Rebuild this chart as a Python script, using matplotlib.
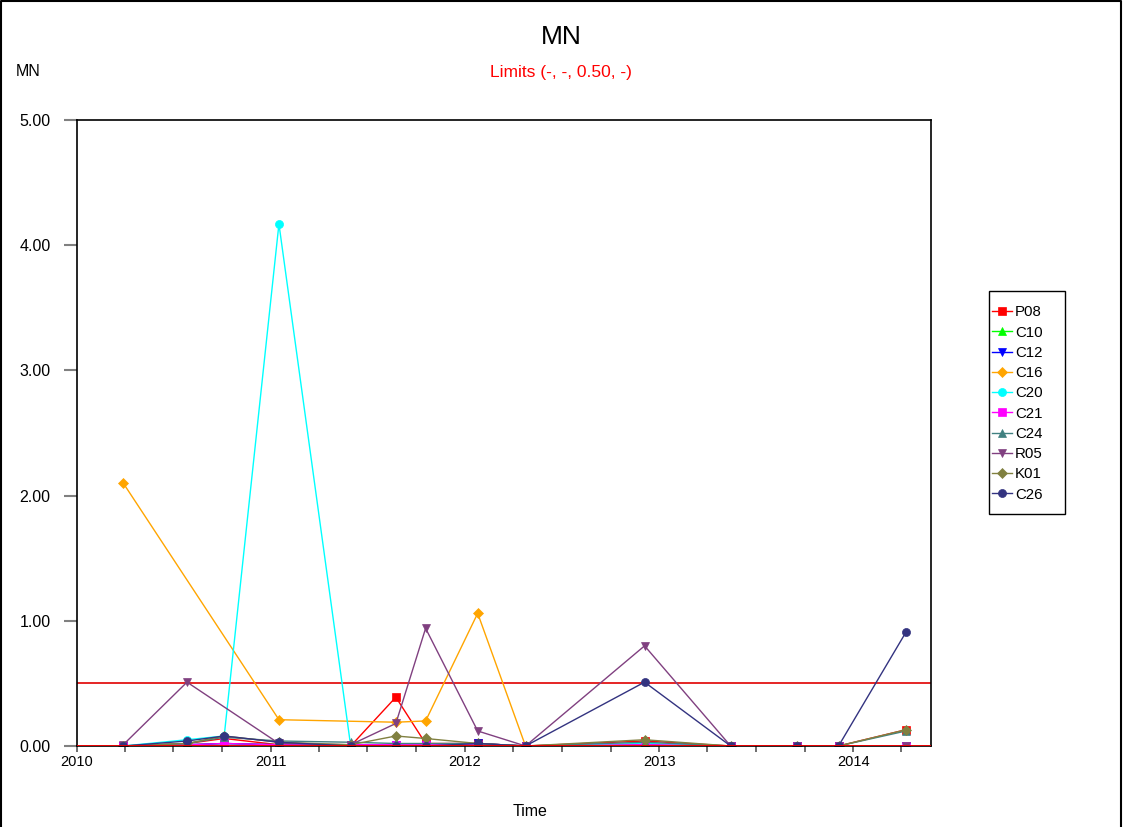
import datetime as dt
import numpy as np
import matplotlib
matplotlib.use("Agg")
import matplotlib.pyplot as plt
import matplotlib.dates as mdates
from matplotlib.patches import Rectangle
from matplotlib.lines import Line2D
from matplotlib.ticker import FormatStrFormatter

plt.rcParams['font.family'] = ['Liberation Sans', 'DejaVu Sans']

# Sampling dates
dates = [dt.date(2010, 3, 29), dt.date(2010, 7, 27), dt.date(2010, 10, 5),
         dt.date(2011, 1, 16), dt.date(2011, 5, 31), dt.date(2011, 8, 24),
         dt.date(2011, 10, 19), dt.date(2012, 1, 25), dt.date(2012, 4, 24),
         dt.date(2012, 12, 4), dt.date(2013, 5, 15), dt.date(2013, 9, 17),
         dt.date(2013, 12, 4), dt.date(2014, 4, 10)]

nan = np.nan
# MN concentration per station (nan = not sampled)
P08 = [0.00, 0.02, 0.06, 0.01, 0.00, 0.39, 0.02, 0.02, 0.00, 0.04, 0.00, 0.00, 0.00, 0.13]
C10 = [0.00, 0.01, 0.02, 0.01, 0.01, 0.01, 0.01, 0.01, 0.00, 0.01, 0.00, 0.00, 0.00, 0.00]
C12 = [0.00, 0.01, 0.02, 0.01, 0.01, 0.01, 0.01, 0.02, 0.00, 0.01, 0.00, 0.00, 0.00, 0.00]
C16 = [2.10, nan, nan, 0.21, nan, 0.19, 0.20, 1.06, 0.00, nan, nan, nan, nan, nan]
C20 = [0.00, 0.05, 0.08, 4.17, 0.00, 0.01, 0.01, 0.01, 0.00, 0.02, 0.00, 0.00, 0.00, 0.00]
C21 = [0.00, 0.01, 0.02, 0.01, 0.01, 0.01, 0.01, 0.01, 0.00, 0.01, 0.00, 0.00, 0.00, 0.00]
C24 = [0.00, 0.02, 0.07, 0.04, 0.03, 0.02, 0.02, 0.02, 0.00, 0.03, 0.00, 0.00, 0.00, 0.12]
R05 = [0.01, 0.51, nan, 0.02, 0.01, 0.18, 0.94, 0.12, 0.00, 0.80, 0.00, 0.00, 0.00, 0.00]
K01 = [0.00, 0.02, 0.08, 0.03, 0.01, 0.08, 0.06, 0.02, 0.00, 0.05, 0.00, 0.00, 0.00, 0.13]
C26 = [0.00, 0.04, 0.08, 0.03, 0.00, 0.00, 0.00, 0.02, 0.00, 0.51, 0.00, 0.00, 0.00, 0.91]

series = [
    ("P08", P08, "#ff0000", "s"),
    ("C10", C10, "#00ff00", "^"),
    ("C12", C12, "#0000ff", "v"),
    ("C16", C16, "#ffa500", "D"),
    ("C20", C20, "#00ffff", "o"),
    ("C21", C21, "#ff00ff", "s"),
    ("C24", C24, "#408080", "^"),
    ("R05", R05, "#804080", "v"),
    ("K01", K01, "#808040", "D"),
    ("C26", C26, "#333380", "o"),
]

limit_upper = 0.50

W, H = 1124, 827
fig = plt.figure(figsize=(W / 100, H / 100), dpi=100)
ax = fig.add_axes([77 / W, 1 - 746 / H, (931 - 77) / W, (746 - 120) / H])

for name, vals, color, marker in series:
    v = np.array(vals, dtype=float)
    ok = ~np.isnan(v)
    d = [dd for dd, k in zip(dates, ok) if k]
    ms = 4.8 if marker == "D" else 5.8
    ax.plot(d, v[ok], color=color, marker=marker, markersize=ms,
            markeredgewidth=0.5, linewidth=1.0, label=name)

# Limit lines
ax.axhline(limit_upper, color="#e00000", linewidth=1.2, zorder=1)
ax.axhline(0.0, color="#ff0000", linewidth=2.0, zorder=5)

ax.set_xlim(dt.date(2010, 1, 1), dt.date(2014, 5, 27))
ax.set_ylim(0, 5)
ax.set_yticks(np.arange(0, 5.01, 1.0))
ax.yaxis.set_major_formatter(FormatStrFormatter("%.2f"))
ax.xaxis.set_major_locator(mdates.YearLocator())
ax.xaxis.set_major_formatter(mdates.DateFormatter("%Y"))
ax.xaxis.set_minor_locator(mdates.MonthLocator(bymonth=[4, 7, 10]))
ax.tick_params(axis="y", which="major", direction="out", labelsize=11.5,
               length=9.6, width=1.5, pad=9.4, color="#808080", labelcolor="black")
ax.tick_params(axis="x", which="both", direction="out", labelsize=10.5,
               length=4.5, width=1.2, pad=2.0, color="#555555", labelcolor="black")
for s in ax.spines.values():
    s.set_linewidth(1.2)
    s.set_color("black")

# Legend with its own frame
handles = [Line2D([], [], color=c, marker=m, markersize=(4.8 if m == "D" else 5.8),
                  markeredgewidth=0.5, linewidth=1.0) for _, _, c, m in series]
labels = [n for n, _, _, _ in series]
leg = ax.legend(handles, labels, loc="upper left",
                bbox_to_anchor=(992 / W, 1 - 305.5 / H),
                bbox_transform=fig.transFigure, fontsize=10.8, frameon=False,
                borderpad=0, labelspacing=0.415, handlelength=1.3,
                handletextpad=0.25, borderaxespad=0)
fig.patches.append(Rectangle((989 / W, 1 - 514 / H), (1065 - 989) / W, (514 - 291) / H,
                             transform=fig.transFigure, fill=False,
                             edgecolor="black", linewidth=1.0))

fig.text(561 / W, 1 - 37 / H, "MN", ha="center", va="center", fontsize=19)
fig.text(561 / W, 1 - 72 / H, "Limits (-, -, 0.50, -)", ha="center",
         va="center", fontsize=12.5, color="#ff0000")
fig.text(16 / W, 1 - 72 / H, "MN", ha="left", va="center", fontsize=11.5)
fig.text(530 / W, 1 - 811 / H, "Time", ha="center", va="center", fontsize=11.5)

# Outer frame (left, top, right)
fig.add_artist(Line2D([1 / W, 1 / W, 1121 / W, 1121 / W], [0, 1 - 1 / H, 1 - 1 / H, 0],
                      transform=fig.transFigure, color="black", linewidth=1.5))

fig.savefig("out.png", dpi=100, facecolor="white")
